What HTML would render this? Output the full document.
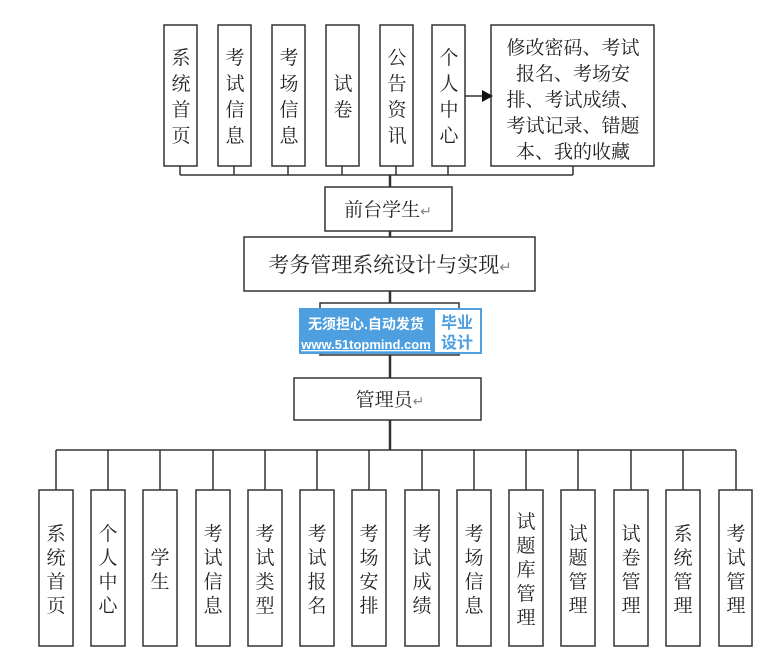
<!DOCTYPE html>
<html><head><meta charset="utf-8"><style>
html,body{margin:0;padding:0;background:#fff;}
svg{display:block;}
text{font-family:"Liberation Serif","Noto Serif CJK SC","Noto Sans CJK SC",serif;fill:#222;}
text.wm{font-family:"Liberation Sans","Noto Sans CJK SC",sans-serif;font-weight:bold;}
</style></head><body>
<svg width="782" height="663" viewBox="0 0 782 663" xmlns="http://www.w3.org/2000/svg">
<g stroke="#333" stroke-width="1.5" fill="#fff">
<rect x="164" y="25" width="33" height="141"/>
<rect x="218" y="25" width="33" height="141"/>
<rect x="272" y="25" width="33" height="141"/>
<rect x="326" y="25" width="33" height="141"/>
<rect x="380" y="25" width="33" height="141"/>
<rect x="432" y="25" width="33" height="141"/>
<rect x="491" y="25" width="163" height="141"/>
<rect x="325" y="187" width="127" height="44"/>
<rect x="244" y="237" width="291" height="54"/>
<rect x="320" y="303" width="139" height="52"/>
<rect x="294" y="378" width="187" height="42"/>
</g>
<g stroke="#333" stroke-width="1.5" fill="none">
<path d="M180 166V175M234 166V175M288 166V175M342 166V175M396 166V175M448 166V175M573 166V175M180 175H573"/>
<path d="M390 175V187" stroke-width="2.5"/>
<path d="M390 231V237M390 291V303M390 355V378M390 420V450" stroke-width="2.5"/>
<path d="M56 450H736"/>
<path d="M465 96H482"/>
</g>
<polygon points="482,90 493,96 482,102" fill="#111"/>
<g stroke="#333" stroke-width="1.5" fill="#fff">
<rect x="39" y="490" width="34" height="156"/><rect x="91" y="490" width="34" height="156"/>
<rect x="143" y="490" width="34" height="156"/><rect x="196" y="490" width="34" height="156"/>
<rect x="248" y="490" width="34" height="156"/><rect x="300" y="490" width="34" height="156"/>
<rect x="352" y="490" width="34" height="156"/><rect x="405" y="490" width="34" height="156"/>
<rect x="457" y="490" width="34" height="156"/><rect x="509" y="490" width="34" height="156"/>
<rect x="561" y="490" width="34" height="156"/><rect x="614" y="490" width="34" height="156"/>
<rect x="666" y="490" width="34" height="156"/><rect x="719" y="490" width="33" height="156"/>
</g>
<g stroke="#333" stroke-width="1.5">
<path d="M56 450V490M108 450V490M160 450V490M213 450V490M265 450V490M317 450V490M369 450V490M422 450V490M474 450V490M526 450V490M578 450V490M631 450V490M683 450V490M736 450V490"/>
</g>
<g font-size="19" text-anchor="middle">
<text x="181" y="64">系</text><text x="181" y="90">统</text><text x="181" y="116">首</text><text x="181" y="142">页</text>
<text x="235" y="64">考</text><text x="235" y="90">试</text><text x="235" y="116">信</text><text x="235" y="142">息</text>
<text x="289" y="64">考</text><text x="289" y="90">场</text><text x="289" y="116">信</text><text x="289" y="142">息</text>
<text x="343" y="90">试</text><text x="343" y="116">卷</text>
<text x="397" y="64">公</text><text x="397" y="90">告</text><text x="397" y="116">资</text><text x="397" y="142">讯</text>
<text x="449" y="64">个</text><text x="449" y="90">人</text><text x="449" y="116">中</text><text x="449" y="142">心</text>
<text x="573" y="54">修改密码、考试</text>
<text x="573" y="80">报名、考场安</text>
<text x="573" y="106">排、考试成绩、</text>
<text x="573" y="132">考试记录、错题</text>
<text x="573" y="158">本、我的收藏</text>
<text x="388" y="216">前台学生<tspan fill="#888" font-size="14">↵</tspan></text>
<text x="390" y="272" font-size="21">考务管理系统设计与实现<tspan fill="#888" font-size="15">↵</tspan></text>
<text x="390" y="406">管理员<tspan fill="#888" font-size="14">↵</tspan></text>
</g>
<g font-size="19" text-anchor="middle">
<text x="56" y="540">系</text><text x="56" y="564">统</text><text x="56" y="588">首</text><text x="56" y="612">页</text>
<text x="108" y="540">个</text><text x="108" y="564">人</text><text x="108" y="588">中</text><text x="108" y="612">心</text>
<text x="160" y="564">学</text><text x="160" y="588">生</text>
<text x="213" y="540">考</text><text x="213" y="564">试</text><text x="213" y="588">信</text><text x="213" y="612">息</text>
<text x="265" y="540">考</text><text x="265" y="564">试</text><text x="265" y="588">类</text><text x="265" y="612">型</text>
<text x="317" y="540">考</text><text x="317" y="564">试</text><text x="317" y="588">报</text><text x="317" y="612">名</text>
<text x="369" y="540">考</text><text x="369" y="564">场</text><text x="369" y="588">安</text><text x="369" y="612">排</text>
<text x="422" y="540">考</text><text x="422" y="564">试</text><text x="422" y="588">成</text><text x="422" y="612">绩</text>
<text x="474" y="540">考</text><text x="474" y="564">场</text><text x="474" y="588">信</text><text x="474" y="612">息</text>
<text x="526" y="528">试</text><text x="526" y="552">题</text><text x="526" y="576">库</text><text x="526" y="600">管</text><text x="526" y="624">理</text>
<text x="578" y="540">试</text><text x="578" y="564">题</text><text x="578" y="588">管</text><text x="578" y="612">理</text>
<text x="631" y="540">试</text><text x="631" y="564">卷</text><text x="631" y="588">管</text><text x="631" y="612">理</text>
<text x="683" y="540">系</text><text x="683" y="564">统</text><text x="683" y="588">管</text><text x="683" y="612">理</text>
<text x="736" y="540">考</text><text x="736" y="564">试</text><text x="736" y="588">管</text><text x="736" y="612">理</text>
</g>
<rect x="299" y="308" width="183" height="46" fill="#4d9fe0"/>
<rect x="435" y="310" width="45" height="42" fill="#fff"/>
<text class="wm" x="366" y="329" font-size="14" text-anchor="middle" style="fill:#fff">无须担心.自动发货</text>
<text class="wm" x="366" y="349" font-size="13" text-anchor="middle" style="fill:#fff" text-decoration="underline">www.51topmind.com</text>
<text class="wm" x="457" y="328" font-size="16" text-anchor="middle" style="fill:#4d9fe0">毕业</text>
<text class="wm" x="457" y="348" font-size="16" text-anchor="middle" style="fill:#4d9fe0">设计</text>
</svg>
</body></html>
